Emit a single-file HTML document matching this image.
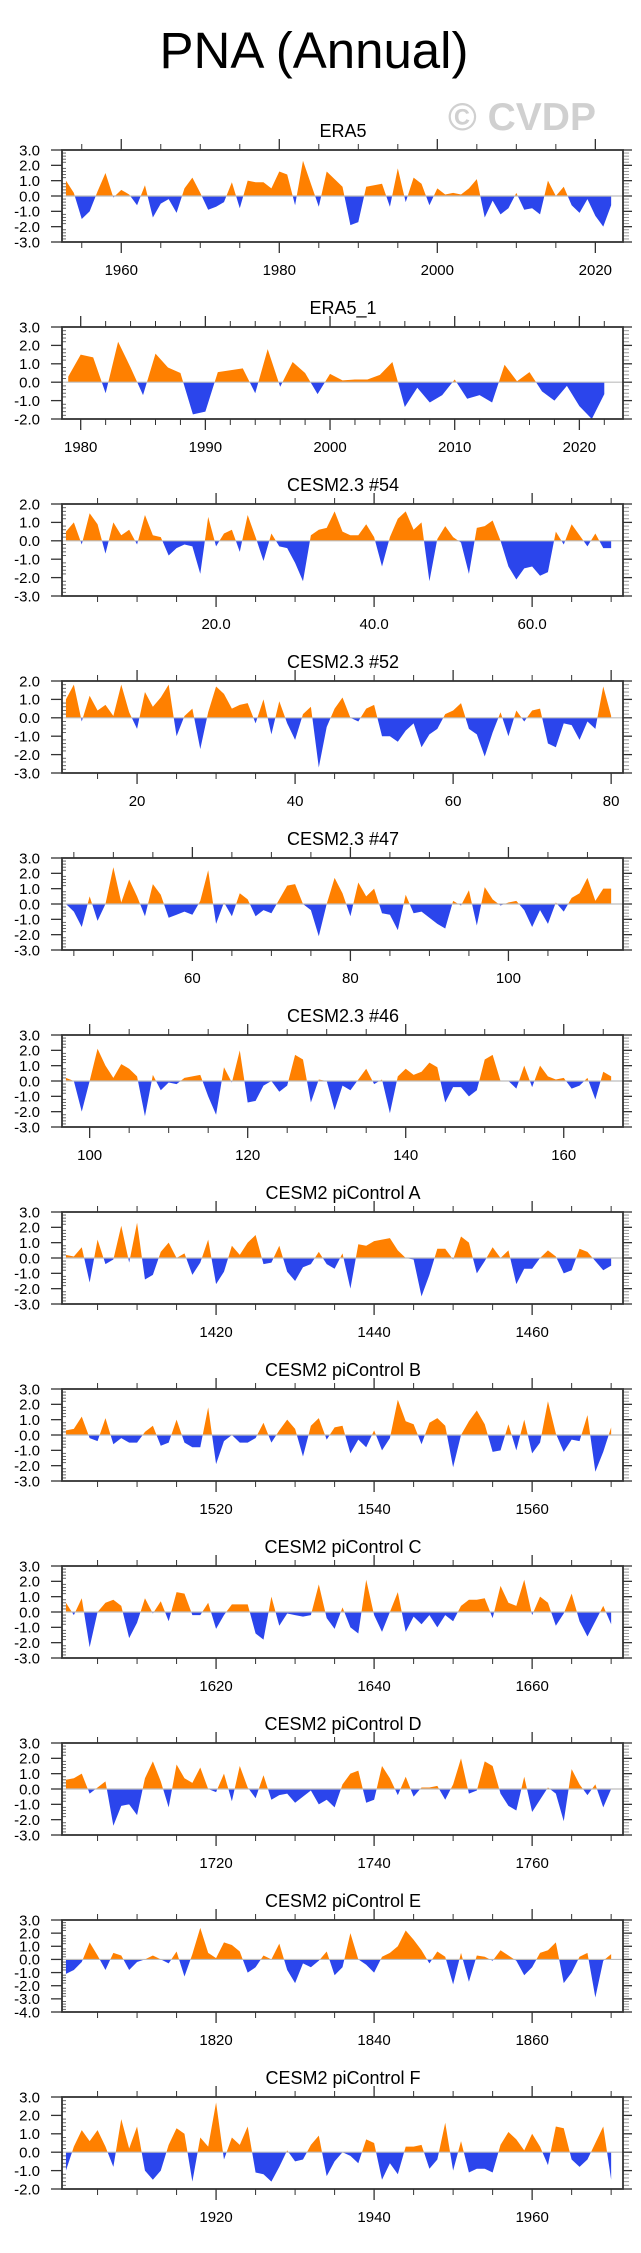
<!DOCTYPE html>
<html><head><meta charset="utf-8"><style>
html,body{margin:0;padding:0;background:#fff;}
svg{display:block;font-family:"Liberation Sans",Arial,sans-serif;}
</style></head><body>
<svg id="fig" width="641" height="2253" viewBox="0 0 641 2253">
<text x="314" y="68" font-size="51" text-anchor="middle" fill="#000">PNA (Annual)</text>
<text x="522" y="130" font-size="39" font-weight="bold" text-anchor="middle" fill="#d0d0d0">© CVDP</text>
</svg>
<script>
const era5Vals=[1.0,0.2,-1.5,-1.0,0.3,1.5,-0.1,0.4,0.1,-0.6,0.7,-1.4,-0.5,-0.2,-1.1,0.5,1.2,0.2,-0.9,-0.7,-0.4,0.9,-0.8,1.0,0.9,0.9,0.5,1.6,1.4,-0.6,2.3,0.8,-0.7,1.6,1.1,0.6,-1.9,-1.7,0.6,0.7,0.8,-0.7,1.8,-0.4,1.2,0.8,-0.6,0.5,0.1,0.2,0.1,0.5,1.1,-1.4,-0.3,-1.2,-0.8,0.2,-0.9,-0.8,-1.2,1.0,0.0,0.6,-0.6,-1.1,-0.2,-1.3,-2.0,-0.6];
const era5bVals=[0.3,1.5,1.35,-0.6,2.2,0.8,-0.7,1.55,0.8,0.5,-1.75,-1.6,0.55,0.65,0.75,-0.6,1.8,-0.25,1.1,0.5,-0.65,0.45,0.1,0.15,0.15,0.4,1.1,-1.35,-0.3,-1.1,-0.7,0.15,-0.9,-0.7,-1.1,0.95,0.05,0.55,-0.5,-1.0,-0.2,-1.3,-2.0,-0.65];
const c54Vals=[0.5,1.0,-0.2,1.5,0.9,-0.7,1.0,0.3,0.6,-0.2,1.4,0.3,0.2,-0.8,-0.4,-0.2,-0.3,-1.8,1.3,-0.3,0.4,0.6,-0.6,1.4,0.2,-1.1,0.4,-0.3,-0.4,-1.2,-2.2,0.3,0.6,0.7,1.6,0.5,0.3,0.3,0.9,0.2,-1.4,0.2,1.2,1.6,0.6,1.0,-2.2,0.1,0.8,0.2,-0.1,-1.8,0.7,0.8,1.1,0.0,-1.4,-2.1,-1.5,-1.4,-1.9,-1.7,0.5,-0.2,0.9,0.3,-0.3,0.4,-0.4,-0.4];
const c52Vals=[1.0,1.8,-0.2,1.2,0.4,0.7,0.1,1.8,0.3,-0.6,1.4,0.6,1.1,1.8,-1.0,0.1,0.5,-1.7,0.3,1.7,1.3,0.5,0.7,0.8,-0.3,1.0,-0.9,0.9,-0.3,-1.2,0.2,0.6,-2.7,-0.5,0.5,1.1,0.0,-0.2,0.5,0.7,-1.0,-1.0,-1.3,-0.7,-0.3,-1.6,-0.9,-0.6,0.2,0.4,0.8,-0.6,-0.9,-2.1,-0.8,0.3,-1.0,0.4,-0.2,0.4,0.5,-1.4,-1.6,-0.3,-0.4,-1.2,-0.2,-0.6,1.7,0.1];
const c47Vals=[0.0,-0.5,-1.5,0.5,-1.1,0.0,2.4,0.1,1.6,0.5,-0.8,1.3,0.6,-0.9,-0.7,-0.5,-0.7,0.2,2.2,-1.3,0.1,-0.8,0.7,0.3,-0.8,-0.4,-0.6,0.3,1.2,1.3,0.0,-0.4,-2.1,0.0,1.7,0.7,-0.8,1.4,0.5,1.0,-0.6,-0.7,-1.7,0.6,-0.6,-0.5,-0.9,-1.3,-1.6,0.2,-0.1,0.9,-1.4,1.1,0.3,-0.1,0.1,0.2,-0.4,-1.5,-0.4,-1.3,0.1,-0.5,0.4,0.7,1.7,0.2,1.0,1.0];
const c46Vals=[0.2,0.0,-2.0,0.0,2.1,1.0,0.2,1.1,0.8,0.3,-2.3,0.4,-0.6,-0.1,-0.2,0.2,0.3,0.4,-1.0,-2.2,0.9,-0.1,2.0,-1.4,-1.3,-0.3,0.0,-0.7,-0.3,1.7,1.4,-1.4,0.1,0.0,-1.9,-0.3,-0.6,0.1,0.8,-0.2,0.1,-2.1,0.3,0.8,0.4,0.6,1.2,0.9,-1.4,-0.4,-0.4,-1.0,-0.6,1.4,1.7,0.0,0.0,-0.5,1.0,-0.4,1.0,0.3,0.1,0.2,-0.5,-0.3,0.2,-1.2,0.6,0.3];
const piAVals=[0.2,0.1,0.7,-1.6,1.2,-0.4,-0.1,2.1,-0.3,2.3,-1.4,-1.1,0.4,1.0,0.0,0.3,-1.1,-0.3,1.2,-1.7,-0.9,0.8,0.2,1.0,1.5,-0.4,-0.3,0.8,-0.9,-1.5,-0.6,-0.4,0.4,-0.4,-0.7,0.3,-2.0,0.9,0.8,1.1,1.2,1.3,0.5,0.0,-0.1,-2.5,-1.1,0.6,0.6,-0.1,1.4,1.0,-1.0,-0.2,0.7,0.0,0.5,-1.7,-0.7,-0.7,0.0,0.5,0.1,-1.0,-0.8,0.6,0.4,-0.2,-0.8,-0.5];
const piBVals=[0.3,0.4,1.2,-0.2,-0.4,1.1,-0.6,-0.2,-0.5,-0.5,0.2,0.6,-0.7,-0.5,1.0,-0.5,-0.8,-0.8,1.8,-1.9,-0.4,0.0,-0.5,-0.5,-0.2,0.8,-0.5,0.3,1.0,0.4,-1.4,0.6,1.1,-0.3,0.5,0.6,-1.2,-0.3,-0.8,0.3,-1.0,-0.2,2.3,0.9,0.7,-0.6,0.8,1.1,0.6,-2.1,0.0,0.9,1.6,0.7,-1.1,-1.0,0.7,-1.0,1.0,-1.2,-0.5,2.2,0.1,-1.1,-0.3,-0.4,1.3,-2.4,-1.1,0.5];
const piCVals=[0.6,-0.2,0.9,-2.3,0.0,0.6,0.8,0.4,-1.7,-0.7,0.9,-0.1,0.7,-0.6,1.3,1.2,-0.2,-0.2,0.6,-1.1,-0.2,0.5,0.5,0.5,-1.4,-1.8,1.0,-0.9,-0.1,-0.2,-0.3,-0.2,1.8,-0.4,-1.1,0.3,-1.0,-1.4,2.1,-0.2,-1.3,0.0,1.3,-1.3,-0.3,-0.8,-0.2,-1.0,-0.2,-0.6,0.4,0.8,0.8,0.9,-0.4,1.7,0.6,0.4,2.1,-0.2,1.0,0.6,-0.9,-0.1,1.2,-0.6,-1.6,-0.6,0.4,-0.8];
const piDVals=[0.6,0.7,1.0,-0.3,0.1,0.5,-2.4,-1.1,-1.0,-1.7,0.7,1.8,0.5,-1.2,1.6,0.7,0.4,1.4,0.0,-0.2,1.0,-0.8,1.5,0.1,-0.6,0.9,-0.7,-0.4,-0.3,-0.9,-0.5,-0.1,-1.0,-0.7,-1.2,0.3,1.0,1.2,-0.9,-0.7,1.5,0.7,-0.4,0.8,-0.5,0.1,0.1,0.2,-0.7,0.3,2.0,-0.3,-0.1,1.8,1.5,-0.3,-1.1,-1.4,0.8,-1.5,-0.7,0.1,-0.3,-2.1,1.3,0.3,-0.4,0.3,-1.2,0.0];
const piEVals=[-1.1,-0.8,-0.2,1.3,0.3,-0.8,0.5,0.3,-0.8,-0.2,0.0,0.3,0.0,-0.3,0.6,-1.3,0.4,2.4,0.5,0.1,1.3,1.1,0.6,-1.0,-0.6,0.3,0.0,1.2,-0.8,-1.8,-0.3,-0.6,-0.1,0.6,-1.2,-0.6,2.0,0.0,-0.4,-1.0,0.2,0.5,1.0,2.2,1.5,0.7,-0.3,0.6,0.2,-1.9,0.5,-1.7,0.3,0.2,-0.1,0.7,0.3,-0.1,-1.2,-0.6,0.5,0.7,1.3,-1.8,-1.0,0.2,0.5,-2.9,-0.1,0.4];
const piFVals=[-1.0,0.3,1.2,0.6,1.2,0.3,-0.8,1.8,0.2,1.4,-1.0,-1.5,-1.0,0.4,1.3,1.0,-1.6,0.8,0.3,2.7,-0.4,0.8,0.4,1.4,-1.1,-1.2,-1.6,-0.8,0.1,-0.5,-0.4,0.4,0.9,-1.3,-0.5,0.0,-0.2,-0.6,0.7,0.5,-1.5,-0.6,-1.2,0.3,0.3,0.4,-0.9,-0.4,1.6,-1.0,0.6,-1.1,-0.9,-0.9,-1.1,0.4,1.1,0.7,0.1,1.0,0.3,-0.7,1.4,1.3,-0.4,-0.8,-0.4,0.5,1.4,-1.5];
const panelTitles=["ERA5","ERA5_1","CESM2.3 #54","CESM2.3 #52","CESM2.3 #47","CESM2.3 #46","CESM2 piControl A","CESM2 piControl B","CESM2 piControl C","CESM2 piControl D","CESM2 piControl E","CESM2 piControl F"];
const panelStarts=[1953,1979,1,11,44,97,1401,1501,1601,1701,1801,1901];
const panelSeries=[era5Vals,era5bVals,c54Vals,c52Vals,c47Vals,c46Vals,piAVals,piBVals,piCVals,piDVals,piEVals,piFVals];
const panelYMin=[-3,-2,-3,-3,-3,-3,-3,-3,-3,-3,-4,-2];
const panelYMax=[3,3,2,2,3,3,3,3,3,3,3,3];
const panelXMajor=[20,10,20,20,20,20,20,20,20,20,20,20];
const panelXMinor=[5,2,5,5,5,5,5,5,5,5,5,5];
const panelXDecimals=[0,0,1,0,0,0,0,0,0,0,0,0];

const NS="http://www.w3.org/2000/svg";
const svg=document.getElementById('fig');
const L=62,R=623,H=92,TOP0=150,STEP=177;
function mk(tag,attrs,parent){const e=document.createElementNS(NS,tag);for(const k in attrs)e.setAttribute(k,attrs[k]);(parent||svg).appendChild(e);return e;}

panelSeries.forEach((vals,p)=>{
  const top=TOP0+STEP*p, bot=top+H;
  const start=panelStarts[p], n=vals.length;
  const x0=start-0.5, x1=start+n-1+1.5;
  const ymin=panelYMin[p], ymax=panelYMax[p];
  const sx=v=>L+(v-x0)/(x1-x0)*(R-L);
  const sy=v=>top+(ymax-v)/(ymax-ymin)*H;
  const g=mk('g',{});
  
  
  const t=mk('text',{x:343,y:top-13,'font-size':18,'text-anchor':'middle',fill:'#000'},g);
  t.textContent=panelTitles[p];
  
  
  // clip paths
  const y0=sy(0);
  const defs=mk('defs',{},g);
  const cpU=mk('clipPath',{id:'cu'+p},defs);mk('rect',{x:L,y:top,width:R-L,height:y0-top},cpU);
  const cpD=mk('clipPath',{id:'cd'+p},defs);mk('rect',{x:L,y:y0,width:R-L,height:bot-y0},cpD);
  let d='M'+sx(start).toFixed(2)+','+y0.toFixed(2);
  vals.forEach((v,i)=>{d+=' L'+sx(start+i).toFixed(2)+','+sy(v).toFixed(2);});
  d+=' L'+sx(start+n-1).toFixed(2)+','+y0.toFixed(2)+' Z';
  const pu=mk('path',{d:d,fill:'#ff8000','clip-path':'url(#cu'+p+')'},g);
  
  
  const pd=mk('path',{d:d,fill:'#2b45ec','clip-path':'url(#cd'+p+')'},g);
  
  
  const zl=mk('line',{x1:L,x2:R,y1:y0,y2:y0,stroke:'#bdbdbd','stroke-width':1.2},g);
  
  
  // y ticks
  for(let v=ymin;v<=ymax+1e-9;v+=0.2){
    const vv=Math.round(v*10)/10, y=sy(vv), major=Math.abs(vv-Math.round(vv))<1e-6;
    if(major){
      mk('line',{x1:L-11,x2:L,y1:y,y2:y,stroke:'#333','stroke-width':1.3},g);
      mk('line',{x1:R,x2:R+9,y1:y,y2:y,stroke:'#333','stroke-width':1.3},g);
      const yl=mk('text',{x:40,y:y+5.3,'font-size':15,'text-anchor':'end',fill:'#000'},g);
      yl.textContent=vv.toFixed(1);
      
      
    } else {
      mk('line',{x1:L,x2:L+4,y1:y,y2:y,stroke:'#666','stroke-width':1},g);
      mk('line',{x1:R,x2:R+6,y1:y,y2:y,stroke:'#999','stroke-width':1},g);
    }
  }
  // x ticks
  const mn=panelXMinor[p], mj=panelXMajor[p];
  for(let v=Math.ceil(x0/mn)*mn; v<=x1; v+=mn){
    const x=sx(v), major=(v%mj===0);
    const len=major?11:6;
    mk('line',{x1:x,x2:x,y1:top-len,y2:top,stroke:'#333','stroke-width':major?1.3:1},g);
    mk('line',{x1:x,x2:x,y1:bot,y2:bot+len,stroke:'#333','stroke-width':major?1.3:1},g);
    if(major){
      const xl=mk('text',{x:x,y:bot+33,'font-size':15,'text-anchor':'middle',fill:'#000'},g);
      xl.textContent=v.toFixed(panelXDecimals[p]);
      
      
    }
  }
  const fr=mk('rect',{x:L,y:top,width:R-L,height:H,fill:'none',stroke:'#333','stroke-width':1.8},g);
  
  
});
</script>
</body></html>
